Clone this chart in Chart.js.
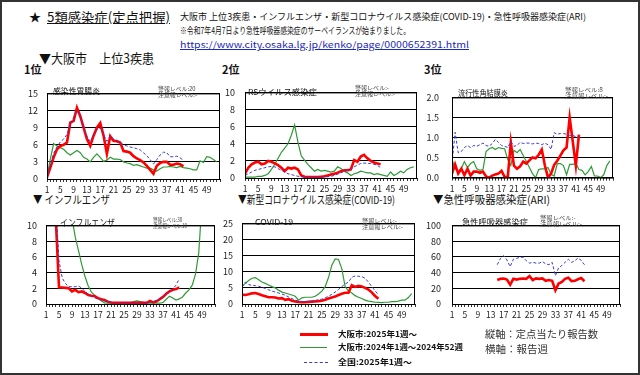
<!DOCTYPE html>
<html>
<head>
<meta charset="utf-8">
<script src="https://cdn.jsdelivr.net/npm/chart.js@4.4.0/dist/chart.umd.min.js"></script>
<style>
  body { margin: 0; background: #fff; }
  #wrap { position: relative; width: 640px; height: 375px; overflow: hidden; background: #fff;
          font-family: "Noto Sans CJK JP", sans-serif; color: #111; }
  #frame { position: absolute; left: 0; top: 0; width: 640px; height: 375px; box-sizing: border-box;
           border: 2px solid #333; pointer-events: none; }
  .t { position: absolute; white-space: nowrap; line-height: 1; transform-origin: left center; }
  .tiny { font-size: 5.5px; color: #444; line-height: 6px; }
  .sec { font-size: 11px; }
  .rank { font-size: 11px; font-weight: bold; }
  .inner { font-size: 8px; }
  .leg { font-size: 8px; font-weight: bold; }
  .swatch { position: absolute; height: 0; }
  canvas { position: absolute; }
</style>
</head>
<body>
<div id="wrap">
  <div class="t" style="left:29px;top:11px;font-size:12px;">★</div>
  <div class="t" data-w="123" style="left:47px;top:10px;font-size:13px;text-decoration:underline;">5類感染症(定点把握)</div>
  <div class="t" data-w="406" style="left:180px;top:12px;font-size:9px;">大阪市 上位3疾患・インフルエンザ・新型コロナウイルス感染症(COVID-19)・急性呼吸器感染症(ARI)</div>
  <div class="t" data-w="230" style="left:180px;top:26px;font-size:9px;">※令和7年4月7日より急性呼吸器感染症のサーベイランスが始まりました。</div>
  <div class="t" data-w="289" style="left:180px;top:40px;font-size:9px;color:#1c28b8;text-decoration:underline;">https://www.city.osaka.lg.jp/kenko/page/0000652391.html</div>
  <div class="t" data-w="115" style="left:39px;top:51px;font-size:13px;">▼大阪市　上位3疾患</div>

  <div class="t rank" style="left:24px;top:64px;">1位</div>
  <div class="t rank" style="left:222px;top:64px;">2位</div>
  <div class="t rank" style="left:424px;top:64px;">3位</div>

  <div class="t sec" data-w="77" style="left:33px;top:194px;">▼ インフルエンザ</div>
  <div class="t sec" data-w="157" style="left:238px;top:194px;">▼新型コロナウイルス感染症(COVID-19)</div>
  <div class="t sec" data-w="117" style="left:433px;top:194px;">▼急性呼吸器感染症(ARI)</div>

  <canvas id="c1"></canvas>
  <canvas id="c2"></canvas>
  <canvas id="c3"></canvas>
  <canvas id="c4"></canvas>
  <canvas id="c5"></canvas>
  <canvas id="c6"></canvas>

  <div class="t inner" data-w="47" style="left:53px;top:87px;">感染性胃腸炎</div>
  <div class="t tiny" data-w="39" style="left:158px;top:86px;">警報レベル:20<br>注意報レベル:-</div>
  <div class="t inner" data-w="69" style="left:248px;top:88px;">RSウイルス感染症</div>
  <div class="t tiny" data-w="40" style="left:355px;top:85px;">警報レベル:-<br>注意報レベル:-</div>
  <div class="t inner" data-w="50" style="left:458px;top:89px;">流行性角結膜炎</div>
  <div class="t tiny" data-w="43" style="left:565px;top:87px;">警報レベル:8<br>注意報レベル:-</div>
  <div class="t inner" data-w="55" style="left:60px;top:218px;font-size:9.5px;">インフルエンザ</div>
  <div class="t tiny" data-w="34" style="left:153px;top:217px;">警報レベル:30<br>注意報レベル:10</div>
  <div class="t inner" data-w="38" style="left:255px;top:218px;">COVID-19</div>
  <div class="t tiny" data-w="41" style="left:362px;top:218px;">警報レベル:-<br>注意報レベル:-</div>
  <div class="t inner" data-w="66" style="left:462px;top:218px;">急性呼吸器感染症</div>
  <div class="t tiny" data-w="42" style="left:540px;top:215px;">警報レベル:-<br>注意報レベル:-</div>

  <div class="swatch" style="left:300px;top:333px;width:28px;border-top:3px solid #ff0000;"></div>
  <div class="t leg" data-w="79" style="left:338px;top:330px;">大阪市:2025年1週～</div>
  <div class="swatch" style="left:300px;top:347px;width:27px;border-top:1.5px solid #2f9a35;"></div>
  <div class="t leg" data-w="125" style="left:338px;top:343px;">大阪市:2024年1週～2024年52週</div>
  <div class="swatch" style="left:304px;top:362px;width:24px;border-top:1px dashed #3b3bd0;"></div>
  <div class="t leg" data-w="74" style="left:338px;top:358px;">全国:2025年1週～</div>
  <div class="t" data-w="113" style="left:485px;top:329px;font-size:10px;color:#333;">縦軸：定点当たり報告数</div>
  <div class="t" data-w="63" style="left:485px;top:344px;font-size:10px;color:#333;">横軸：報告週</div>

  <div id="frame"></div>
</div>

<script>
// week labels on the x axes (axis runs week 1..53)
const weekTicks = [1, 5, 9, 13, 17, 21, 25, 29, 33, 37, 41, 45, 49];
const weekMarks = Array.from({length: 53}, (_, i) => i + 1);

// 1位 感染性胃腸炎
const gastroTicks = [0, 3, 6, 9, 12, 15];
const gastro2025 = [0.3, 2.0, 3.8, 5.2, 5.8, 6.0, 6.4, 9.9, 10.2, 12.5,
  11.0, 9.0, 7.0, 5.8, 7.6, 9.0, 9.8, 7.6, 4.4, 7.5,
  6.7, 6.6, 6.4, 4.9, 4.8, 4.6, 4.0, 3.6, 3.3, 2.9,
  2.3, 1.6, 0.9, 2.3, 2.8, 3.0, 3.0, 2.5, 2.5, 2.7, 2.6, 2.2];
const gastro2024 = [0.5, 3.5, 6.2, 5.8, 5.5, 5.2, 4.6, 4.2, 4.6, 5.0,
  4.6, 3.8, 3.5, 3.0, 3.8, 4.4, 3.8, 3.1, 3.3, 3.8,
  3.5, 3.5, 3.4, 3.0, 2.8, 2.7, 2.4, 2.5, 2.3, 2.1,
  1.9, 1.9, 1.6, 1.4, 1.8, 2.1, 2.1, 2.2, 2.1, 2.0,
  2.2, 2.0, 1.9, 1.8, 1.6, 1.6, 3.2, 2.9, 3.9, 3.8, 3.4, 3.0];
const gastroJapan = [0.3, 2.5, 4.5, 5.6, 6.5, 7.0, 7.8, 9.5, 10.8, 12.0,
  11.0, 9.0, 7.5, 6.5, 7.8, 8.6, 9.0, 7.8, 6.6, 7.5,
  7.0, 6.8, 6.4, 6.0, 5.8, 5.6, 5.5, 5.3, 5.1, 4.6,
  4.1, 3.4, 2.6, 3.4, 4.2, 4.7, 4.6, 3.9, 3.9, 4.0, 3.7, 3.3];

// 2位 RSウイルス感染症
const rsTicks = [0, 2, 4, 6, 8, 10];
const rs2025 = [0.5, 1.2, 1.6, 1.8, 1.9, 1.6, 1.7, 2.0, 1.9, 1.7,
  1.5, 1.2, 0.8, 1.2, 1.1, 1.2, 1.0, 0.3, 0.15, 0.1,
  0.1, 0.1, 0.1, 0.15, 0.2, 0.3, 0.4, 0.5, 0.6, 0.8,
  0.9, 0.9, 1.0, 2.1, 1.9, 2.5, 2.7, 2.3, 2.0, 1.8, 1.7, 1.6];
const rs2024 = [0.1, 0.1, 0.1, 0.1, 0.2, 0.2, 0.3, 0.5, 1.0, 1.6,
  2.3, 3.0, 3.5, 4.0, 5.0, 6.2, 4.2, 2.6, 2.1, 1.6,
  1.2, 0.8, 1.0, 0.8, 0.9, 0.8, 0.7, 0.8, 1.3, 1.1,
  0.8, 0.6, 0.3, 0.5, 0.6, 0.8, 0.7, 0.6, 0.6, 0.4,
  0.5, 0.4, 0.3, 0.2, 0.7, 0.3, 0.5, 0.8, 0.6, 1.0, 1.2, 1.3];
const rsJapan = [0.3, 0.5, 0.7, 0.9, 1.0, 1.1, 1.2, 1.3, 1.35, 1.3,
  1.1, 0.9, 0.7, 0.5, 0.4, 0.3, 0.2, 0.15, 0.1, 0.1,
  0.1, 0.1, 0.1, 0.1, 0.12, 0.15, 0.2, 0.3, 0.45, 0.6,
  0.8, 0.9, 1.0, 1.3, 1.5, 1.7, 1.75, 1.7, 1.7, 1.6, 1.5, 1.2];

// 3位 流行性角結膜炎
const conjTicks = [0, 0.5, 1.0, 1.5, 2.0];
const conj2025 = [0.1, 0.33, 0.1, 0.22, 0.06, 0.22, 0.05, 0.15, 0.15, 0.12,
  0.15, 0.03, 0.0, 0.05, 0.08, 0.1, 0.17, 0.02, 0.0, 0.88,
  0.3, 0.22, 0.28, 0.4, 0.35, 0.43, 0.5, 0.48, 0.57, 0.7,
  0.3, 0.0, 0.1, 0.32, 0.42, 0.55, 0.68, 0.75, 1.5, 0.9, 0.3, 1.07];
const conj2024 = [0.45, 0.22, 0.15, 0.22, 0.4, 0.25, 0.35, 0.4, 0.22, 0.18,
  0.2, 0.65, 0.72, 0.75, 0.7, 0.75, 0.73, 0.72, 0.45, 0.3,
  0.68, 0.62, 0.7, 0.55, 0.4, 0.25, 0.1, 0.0, 0.2, 0.22,
  0.22, 0.25, 0.08, 0.04, 0.35, 0.35, 0.3, 0.07, 0.33, 0.33,
  0.35, 0.2, 0.18, 0.07, 0.15, 0.28, 0.04, 0.04, 0.0, 0.07, 0.3, 0.42];
const conjJapan = [0.35, 1.13, 0.62, 0.65, 0.75, 0.8, 0.75, 0.8, 0.78, 0.82,
  0.86, 0.8, 0.78, 0.85, 0.95, 0.88, 0.8, 0.78, 0.75, 0.9,
  0.78, 0.8, 0.88, 0.85, 0.86, 0.86, 0.84, 0.86, 0.85, 0.82,
  0.86, 0.82, 0.7, 1.12, 1.08, 1.1, 1.1, 1.08, 1.05, 1.05, 1.02, 1.0];

// インフルエンザ
const fluTicks = [0, 2, 4, 6, 8, 10];
const flu2025 = [35, 22, 14, 11, 2.1, 2.1, 2.05, 2.0, 1.6, 1.8,
  1.5, 1.6, 1.4, 1.15, 1.05, 1.0, 0.75, 0.6, 0.5, 0.3,
  0.2, 0.15, 0.15, 0.15, 0.15, 0.15, 0.15, 0.15, 0.15, 0.15,
  0.15, 0.15, 0.4, 0.2, 0.35, 0.6, 0.9, 1.3, 1.6, 1.8, 1.9, 2.1];
const flu2024 = [40, 32, 26, 22, 19, 17, 15, 13, 11, 8.5,
  6.8, 5.0, 3.5, 2.3, 1.5, 1.1, 0.75, 0.4, 0.15, 0.1,
  0.1, 0.1, 0.1, 0.1, 0.1, 0.1, 0.15, 0.3, 0.4, 0.3,
  0.2, 0.1, 0.1, 0.1, 0.1, 0.1, 0.2, 0.6, 1.0, 0.75,
  0.5, 0.65, 0.9, 1.4, 1.8, 2.4, 3.8, 6.5, 13, 22, 32, 42];
const fluJapan = [40, 30, 20, 13, 5.5, 3.3, 2.6, 2.2, 2.2, 2.2,
  2.3, 2.0, 1.6, 1.25, 1.0, 0.8, 0.6, 0.5, 0.4, 0.3,
  0.25, 0.2, 0.2, 0.2, 0.2, 0.2, 0.2, 0.2, 0.2, 0.2,
  0.2, 0.2, 0.2, 0.3, 0.45, 0.7, 0.95, 1.25, 1.6, 1.9, 2.4, 3.2];

// 新型コロナウイルス感染症(COVID-19)
const covidTicks = [0, 5, 10, 15, 20, 25];
const covid2025 = [2.9, 2.8, 3.0, 3.3, 3.4, 3.1, 2.7, 2.4, 2.1, 2.1,
  2.0, 1.7, 1.8, 1.3, 1.5, 1.0, 0.8, 0.6, 0.55, 0.55,
  0.65, 0.75, 0.8, 0.9, 1.0, 1.3, 1.7, 2.0, 2.3, 2.8,
  3.2, 3.5, 3.5, 5.8, 5.3, 5.6, 5.4, 5.0, 4.5, 3.6, 2.5, 1.6];
const covid2024 = [5.4, 6.4, 7.3, 8.0, 8.2, 7.5, 6.8, 6.4, 5.9, 5.4,
  5.0, 4.3, 3.7, 3.4, 3.1, 2.8, 2.4, 1.2, 1.9, 2.1,
  2.1, 2.1, 2.4, 3.1, 4.0, 5.4, 8.2, 12.0, 14.0, 13.8,
  11.0, 5.4, 4.0, 3.4, 2.6, 2.1, 1.7, 1.2, 0.9, 0.75,
  0.55, 0.5, 0.4, 0.55, 0.55, 0.75, 0.75, 0.9, 1.2, 1.2, 2.0, 3.2];
const covidJapan = [5.2, 6.8, 6.0, 5.8, 5.7, 5.5, 5.2, 4.8, 4.4, 4.0,
  3.7, 3.4, 3.1, 2.7, 2.2, 1.7, 1.2, 0.9, 0.8, 0.75,
  0.8, 0.9, 1.1, 1.3, 1.5, 1.9, 2.4, 3.0, 3.7, 4.5,
  5.4, 6.2, 6.8, 8.3, 8.7, 8.6, 8.5, 8.0, 6.8, 5.4, 4.1, 2.9];

// 急性呼吸器感染症(ARI) - surveillance from week 15
const ariTicks = [0, 20, 40, 60, 80, 100];
const ariStartWeek = 15;
const ari2025 = [30.5, 32, 32.5, 31, 24.5, 32, 31, 32, 32.5, 32,
  35.5, 30.5, 32.5, 32, 32.5, 29.5, 30.5, 29.5, 17.5, 26,
  28, 32, 33.5, 29, 29.5, 31.5, 33, 29];
const ariJapan = [50, 58, 61.5, 56, 47.5, 57, 58, 59.5, 59.5, 55,
  52, 53, 52, 52, 54, 51, 50, 53, 36, 46,
  49, 53, 57, 53, 55, 58.5, 55.5, 50];

const RED = '#ff0000', GREEN = '#2f9a35', BLUE = '#3b3bd0';

function series(values, firstWeek) {
  return values.map((v, i) => ({x: firstWeek + i, y: v}));
}

function lineSets(osaka2025, osaka2024, japan, firstWeek) {
  const ds = [];
  ds.push({label: '全国:2025年1週～', data: series(japan, firstWeek),
    borderColor: BLUE, borderWidth: 1, borderDash: [3, 2]});
  ds.push({label: '大阪市:2025年1週～', data: series(osaka2025, firstWeek),
    borderColor: RED, borderWidth: 2.6});
  if (osaka2024) {
    ds.push({label: '大阪市:2024年1週～2024年52週', data: series(osaka2024, 1),
      borderColor: GREEN, borderWidth: 1.2});
  }
  return ds;
}

// black box round the plot area
const framePlugin = {
  id: 'frame',
  afterDraw(chart) {
    const a = chart.chartArea, ctx = chart.ctx;
    ctx.save();
    ctx.strokeStyle = '#000';
    ctx.lineWidth = 1;
    ctx.strokeRect(a.left + 0.5, a.top + 0.5, a.right - a.left - 1, a.bottom - a.top);
    ctx.restore();
  }
};

function makePanel(id, box, yTicks, digits, yGap, datasets) {
  const padT = 6, padR = 4, yW = 30, xH = 18;
  const cv = document.getElementById(id);
  const W = (box.r - box.l) + yW + padR;
  const H = (box.b - box.t) + padT + xH;
  cv.width = W; cv.height = H;
  cv.style.width = W + 'px'; cv.style.height = H + 'px';
  cv.style.left = (box.l - yW) + 'px';
  cv.style.top = (box.t - padT) + 'px';

  new Chart(cv.getContext('2d'), {
    type: 'line',
    data: {datasets: datasets},
    options: {
      responsive: false,
      animation: false,
      devicePixelRatio: 1,
      layout: {padding: {top: padT, right: padR, left: 0, bottom: 0}},
      elements: {point: {radius: 0}, line: {tension: 0}},
      plugins: {legend: {display: false}, tooltip: {enabled: false}, title: {display: false}},
      scales: {
        x: {
          type: 'linear', min: 1, max: 53,
          afterBuildTicks: s => { s.ticks = weekMarks.map(v => ({value: v})); },
          afterFit: s => { s.height = xH; },
          ticks: {
            autoSkip: false, maxRotation: 0, minRotation: 0, padding: 3,
            color: '#222', font: {family: '"Noto Sans CJK JP"', size: 8.5},
            callback: v => weekTicks.includes(v) ? String(v) : ''
          },
          grid: {drawOnChartArea: false, drawTicks: true, tickLength: 3, color: '#000', lineWidth: 0.8},
          border: {display: true, color: '#000', width: 1}
        },
        y: {
          type: 'linear', min: yTicks[0], max: yTicks[yTicks.length - 1],
          afterBuildTicks: s => { s.ticks = yTicks.map(v => ({value: v})); },
          afterFit: s => { s.width = yW; },
          ticks: {
            padding: yGap, color: '#222', font: {family: '"Noto Sans CJK JP"', size: 9},
            callback: v => v.toFixed(digits)
          },
          grid: {color: '#000', lineWidth: 1, drawTicks: false},
          border: {display: true, color: '#000', width: 1}
        }
      }
    },
    plugins: [framePlugin]
  });
}

makePanel('c1', {l: 47, t: 85, r: 220, b: 179}, gastroTicks, 0, 9,
  lineSets(gastro2025, gastro2024, gastroJapan, 1));
makePanel('c2', {l: 245, t: 83, r: 417, b: 178}, rsTicks, 0, 10,
  lineSets(rs2025, rs2024, rsJapan, 1));
makePanel('c3', {l: 452, t: 85, r: 613, b: 178}, conjTicks, 1, 13,
  lineSets(conj2025, conj2024, conjJapan, 1));
makePanel('c4', {l: 46, t: 217, r: 215, b: 304}, fluTicks, 0, 9,
  lineSets(flu2025, flu2024, fluJapan, 1));
makePanel('c5', {l: 242, t: 215, r: 415, b: 304}, covidTicks, 0, 9,
  lineSets(covid2025, covid2024, covidJapan, 1));
makePanel('c6', {l: 452, t: 215, r: 620, b: 304}, ariTicks, 0, 11,
  lineSets(ari2025, null, ariJapan, ariStartWeek));

// squeeze text to the widths it has in the picture
document.querySelectorAll('[data-w]').forEach(el => {
  const w = el.getBoundingClientRect().width;
  if (w > 0) el.style.transform = 'scaleX(' + (el.dataset.w / w) + ')';
});
</script>
</body>
</html>
